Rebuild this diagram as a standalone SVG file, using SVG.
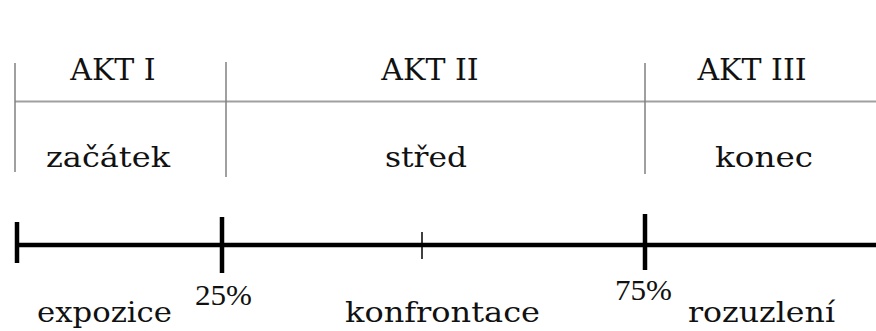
<svg xmlns="http://www.w3.org/2000/svg" width="876" height="331" viewBox="0 0 876 331">
<style>
.t{font-family:"DejaVu Serif","Liberation Serif",serif;font-size:30px;fill:#111;text-anchor:middle}
.w{font-family:"DejaVu Serif","Liberation Serif",serif;font-size:28px;fill:#111}
.p{font-family:"Liberation Serif","Times New Roman",serif;font-size:30px;fill:#111}
.g{stroke:#808080;stroke-width:1.5;fill:none}
.h{stroke:#a0a0a0;stroke-width:2;fill:none}
.k{stroke:#000;stroke-width:4.5;fill:none}
.m{stroke:#000;stroke-width:1.5;fill:none}
</style>
<rect width="876" height="331" fill="#fff"/>
<g id="connectors">
<line class="h" x1="15" y1="101.5" x2="876" y2="101.5"/>
<line class="g" x1="15" y1="63" x2="15" y2="172"/>
<line class="g" x1="226" y1="62" x2="226" y2="177"/>
<line class="g" x1="645" y1="63" x2="645" y2="174"/>
<line class="k" x1="15" y1="245" x2="876" y2="245"/>
<line class="k" x1="17" y1="222" x2="17" y2="263"/>
<line class="k" x1="222" y1="217" x2="222" y2="273"/>
<line class="m" x1="422" y1="232" x2="422" y2="259"/>
<line class="k" x1="645" y1="214" x2="645" y2="270"/>
</g>
<g id="akt1"><text class="t" x="113" y="80">AKT I</text><text class="w" x="46" y="167" textLength="124" lengthAdjust="spacingAndGlyphs">začátek</text></g>
<g id="akt2"><text class="t" x="430" y="80">AKT II</text><text class="w" x="385" y="167" textLength="82" lengthAdjust="spacingAndGlyphs">střed</text></g>
<g id="akt3"><text class="t" x="752" y="80">AKT III</text><text class="w" x="715" y="167" textLength="98" lengthAdjust="spacingAndGlyphs">konec</text></g>
<g id="expozice"><text class="w" x="37" y="322" textLength="135" lengthAdjust="spacingAndGlyphs">expozice</text></g>
<g id="p25"><text class="p" x="195" y="305" textLength="57" lengthAdjust="spacingAndGlyphs">25%</text></g>
<g id="konfrontace"><text class="w" x="345" y="322" textLength="195" lengthAdjust="spacingAndGlyphs">konfrontace</text></g>
<g id="p75"><text class="p" x="615" y="300" textLength="57" lengthAdjust="spacingAndGlyphs">75%</text></g>
<g id="rozuzleni"><text class="w" x="688" y="322" textLength="147" lengthAdjust="spacingAndGlyphs">rozuzlení</text></g>
</svg>
